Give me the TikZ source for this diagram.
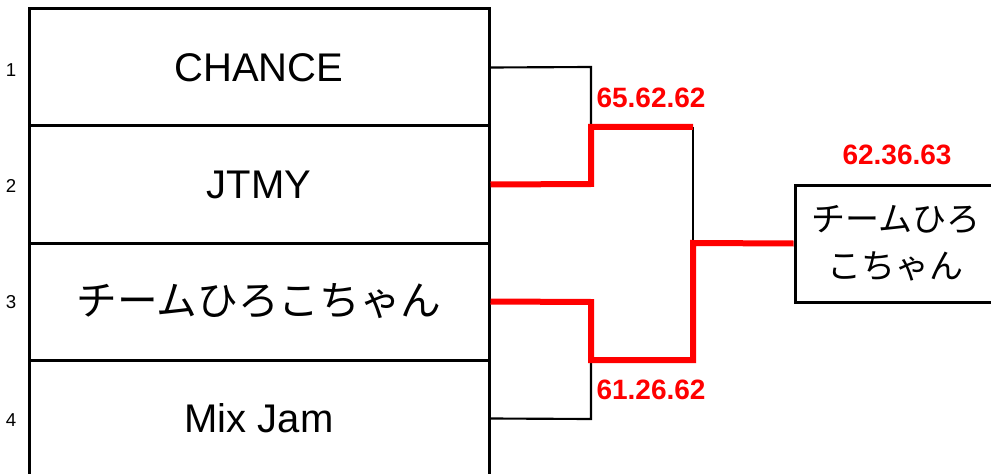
\documentclass[tikz,border=0pt]{standalone}
\usepackage{fontspec}
\setmainfont{Liberation Sans}
\newfontfamily\jp{Noto Sans CJK JP}
\begin{document}
\begin{tikzpicture}[x=0.75pt,y=-0.75pt,
  team/.style={draw=black,line width=2.25pt,minimum width=460*0.75pt,minimum height=117*0.75pt,inner sep=0pt,font=\fontsize{30}{36}\selectfont},
  rownum/.style={font=\fontsize{14}{16}\selectfont,inner sep=0pt},
  score/.style={text=red,font=\bfseries\fontsize{21}{24}\selectfont,inner sep=0pt},
  lose/.style={draw=black,line width=1.6pt},
  win/.style={draw=red,line width=4.5pt},
  winbox/.style={draw=black,line width=2.25pt,minimum width=201*0.75pt,minimum height=117*0.75pt,inner sep=0pt,align=center,font=\jp\fontsize{25.5}{35}\selectfont}]
\useasboundingbox (0,0) rectangle (991,474);
\clip (0,0) rectangle (991,474);
% teams
\node[team] (t1) at (259,67.5) {CHANCE};
\node[team] (t2) at (259,184.5) {JTMY};
\node[team,font=\jp\fontsize{30.5}{36}\selectfont] (t3) at (259,301.5) {チームひろこちゃん};
\node[team] (t4) at (259,418.5) {Mix Jam};
% row numbers
\node[rownum] (n1) at (11,70) {1};
\node[rownum] (n2) at (11,186) {2};
\node[rownum] (n3) at (11,302) {3};
\node[rownum] (n4) at (11,420) {4};
% winner
\node[winbox] (w) at (895.5,243.5) {チームひろ\\こちゃん};
% bracket coordinates
\coordinate (s1) at (591,127);
\coordinate (s2) at (591,360);
\coordinate (f) at (693,243);
% losing lines
\draw[lose] (t1.east) -- (591,67) -- (s1);
\draw[lose] (693,127) -- (f);
\draw[lose] (t4.east) -- (591,419) -- (s2);
% winning lines
\draw[win] (t2.east) -- (591,184) -- (s1) -- (693,127);
\draw[win] (t3.east) -- (591,302) -- (s2) -- (693,360) -- (f) -- (w.west);
% scores
\node[score] (sc1) at (651,98) {65.62.62};
\node[score] (sc2) at (651,390) {61.26.62};
\node[score] (sc3) at (897,155) {62.36.63};
\end{tikzpicture}
\end{document}
